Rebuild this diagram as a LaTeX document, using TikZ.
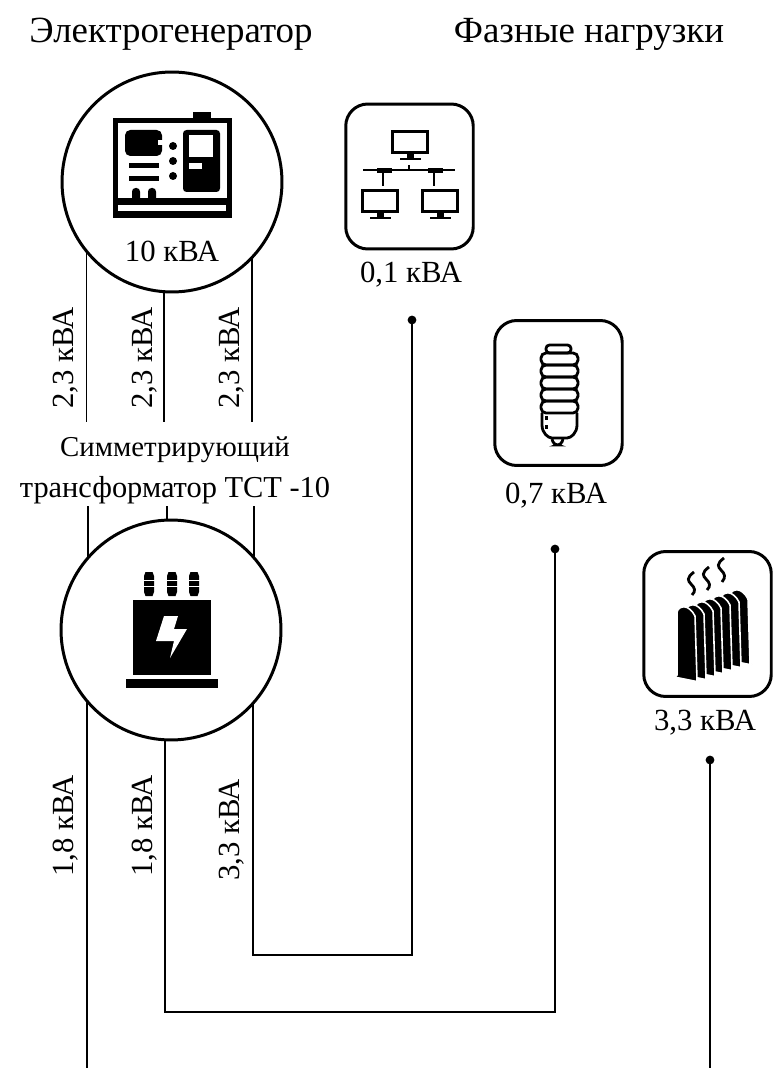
\documentclass[tikz,border=0pt]{standalone}
\usepackage{fontspec}
\setmainfont{Liberation Serif}
\usetikzlibrary{positioning}
\tikzset{
  headtext/.style={font=\fontsize{21}{25}\selectfont, text=black, inner sep=0pt},
  powertext/.style={font=\fontsize{17.5}{20}\selectfont, text=black, inner sep=0pt},
  phasetext/.style={font=\fontsize{17.5}{20}\selectfont, text=black, inner sep=0pt, rotate=90},
  unitcircle/.style={circle, draw=black, fill=white, line width=1.7pt, minimum size=4.4cm,
    inner sep=0pt, outer sep=0pt},
  loadbox/.style={draw=black, fill=white, rounded corners=.44cm, line width=1.7pt,
    minimum width=2.55cm, minimum height=2.9cm, inner sep=0pt, outer sep=0pt},
  wire/.style={draw=black, line width=1.1pt},
  wiredot/.style={circle, fill=black, minimum size=5pt, inner sep=0pt, outer sep=0pt},
  iconline/.style={draw=black, line width=1.6pt},
  desktop/.pic={
    \draw[black, line width=2pt] (-17.5,-10.5) rectangle (17.5,10.5);
    \fill[black] (-3.5,11) rectangle (3.5,16);
    \fill[black] (-10.5,16) rectangle (10.5,18);
  },
  bushing/.pic={
    \fill[black] (-3.5,-12) -- (3.5,-12) -- (5,-8) -- (5,8) -- (3.5,12) -- (-3.5,12) -- (-5,8) -- (-5,-8) -- cycle;
    \fill[white] (-5.5,-4.5) rectangle (5.5,-3.3);
    \fill[white] (-5.5,2.2) rectangle (5.5,3.4);
  },
  radfin/.pic={
    \filldraw[fill=black, draw=white, line width=.9pt] (-3,2) -- (0,0) -- (0,-63)
      .. controls (2,-70) and (12,-71) .. (18,-59) -- (20,5) -- (22,7) -- cycle;
  }
}
\begin{document}
\begin{tikzpicture}[x=.02cm,y=-.02cm]
  \useasboundingbox (0,0) rectangle (773,1070);
  \node[headtext] (genhead) at (171,34) {Электрогенератор};
  \node[headtext] (loadhead) at (589,34) {Фазные нагрузки};

  % Generator and transformer
  \node[unitcircle] (gen) at (172,182) {};
  \node[unitcircle] (tr) at (171,630) {};
  \node[powertext] (genpower) at (172,251) {10 кВА};
  \node[powertext, align=center, font=\fontsize{17.3}{23.3}\selectfont] (trname) at (175,470.5)
    {{\fontsize{16.4}{23.3}\selectfont Симметрирующий}\\трансформатор ТСТ -10};

  % Generator icon
  \fill[black] (113,118) rectangle (232,218);
  \fill[black] (193,112) rectangle (211,119);
  \fill[white] (118,123) rectangle (227,198);
  \fill[white] (118,205) rectangle (226,211);
  \fill[black, rounded corners=3pt] (125,130) rectangle (162,156);
  \fill[white] (158,140) rectangle (163,145);
  \fill[black] (129,163) rectangle (159,168);
  \fill[black] (129,176) rectangle (159,181);
  \fill[black] (173,146) circle (4);
  \fill[black] (173,161) circle (4);
  \fill[black] (173,176) circle (4);
  \fill[black, rounded corners=2pt] (183,130) rectangle (220,192);
  \fill[white] (189,135) rectangle (213,157);
  \fill[white] (189,163) rectangle (202,169);
  \fill[black, rounded corners=2pt] (132,188) rectangle (140,204);
  \fill[black, rounded corners=2pt] (148,188) rectangle (156,204);

  % Transformer icon
  \fill[black] (133,600) rectangle (211,675);
  \fill[black] (126,679) rectangle (218,688);
  \pic at (149,584) {bushing};
  \pic at (172,584) {bushing};
  \pic at (194,584) {bushing};
  \fill[white] (164,616) -- (178,616) -- (174,629) -- (187,629) -- (170,658) -- (174,641) -- (156,641) -- cycle;

  % Phase loads
  \node[loadbox] (netbox) at (409.5,176.5) {};
  \node[loadbox] (lampbox) at (558.5,393) {};
  \node[loadbox] (heatbox) at (707.5,624) {};
  \node[powertext] (netpower) at (411,275) {0,1 кВА};
  \node[powertext] (lamppower) at (556,496) {0,7 кВА};
  \node[powertext] (heatpower) at (705,723) {3,3 кВА};

  % Network icon
  \pic at (410,142) {desktop};
  \pic at (380,201) {desktop};
  \pic at (440,201) {desktop};
  \draw[iconline] (363,170) -- (455,170);
  \draw[iconline] (409,165) -- (409,170);
  \draw[iconline] (383,170) -- (383,186);
  \draw[iconline] (434,170) -- (434,186);
  \fill[black] (377,168) rectangle (392,173);
  \fill[black] (428,168) rectangle (443,173);

  % Lamp icon
  \draw[iconline, rounded corners=2pt] (546,345) rectangle (571,353);
  \draw[iconline, rounded corners=2.8pt] (541,353) rectangle (578,365);
  \draw[iconline, rounded corners=2.8pt] (541,365) rectangle (578,377);
  \draw[iconline, rounded corners=2.8pt] (541,377) rectangle (578,389);
  \draw[iconline, rounded corners=2.8pt] (541,389) rectangle (578,401);
  \draw[iconline, rounded corners=2.8pt] (541,401) rectangle (578,413);
  \draw[iconline] (542,413) -- (542,425) .. controls (542,433) and (548,438) .. (552,438) -- (567,438)
    .. controls (571,438) and (577,433) .. (577,425) -- (577,413);
  \draw[iconline, rounded corners=2pt] (552,439) -- (554,445) -- (561,445) -- (563,439);
  \fill[black] (545,416) rectangle (548,420);
  \fill[black] (545,425) rectangle (548,429);

  % Radiator icon
  \pic at (730,658) {radfin};
  \pic at (721,661) {radfin};
  \pic at (712,664) {radfin};
  \pic at (703,667) {radfin};
  \pic at (695,670) {radfin};
  \pic at (686,673) {radfin};
  \pic at (677,675) {radfin};
  \draw[iconline] (694,572) .. controls (686,578) and (688,581) .. (691,584) .. controls (695,588) and (696,591) .. (692,595);
  \draw[iconline] (709,567) .. controls (701,573) and (703,576) .. (706,579) .. controls (710,583) and (711,586) .. (707,590);
  \draw[iconline] (724,558) .. controls (716,564) and (718,567) .. (721,570) .. controls (725,574) and (726,577) .. (722,582);

  % Wires
  \coordinate (genend) at (172,422);
  \coordinate (trtop) at (171,506);
  \coordinate (phasea) at (87,1068);
  \coordinate (phaseb) at (555,1012);
  \coordinate (phasec) at (412,955);
  \coordinate (heatend) at (710,1068);
  \node[wiredot] (netdot) at (412,320) {};
  \node[wiredot] (lampdot) at (555,549) {};
  \node[wiredot] (heatdot) at (710,760) {};
  \draw[wire] (gen.219.4) -- (gen.219.4 |- genend);
  \draw[wire] (gen.266.4) -- (gen.266.4 |- genend);
  \draw[wire] (gen.317.6) -- (gen.317.6 |- genend);
  \draw[wire] (tr.139.8) -- (tr.139.8 |- trtop);
  \draw[wire] (tr.92.6) -- (tr.92.6 |- trtop);
  \draw[wire] (tr.41.7) -- (tr.41.7 |- trtop);
  \draw[wire] (tr.220.2) -- (tr.220.2 |- phasea);
  \draw[wire] (tr.267.4) |- (phaseb) -- (lampdot);
  \draw[wire] (tr.318.3) |- (phasec) -- (netdot);
  \draw[wire] (heatdot) -- (heatend);

  \node[phasetext] (gentexta) at (66,358) {2,3 кВА};
  \node[phasetext] (gentextb) at (145,358) {2,3 кВА};
  \node[phasetext] (gentextc) at (232,358) {2,3 кВА};
  \node[phasetext] (trtexta) at (66,826) {1,8 кВА};
  \node[phasetext] (trtextb) at (145,826) {1,8 кВА};
  \node[phasetext] (trtextc) at (232,830) {3,3 кВА};
\end{tikzpicture}
\end{document}
